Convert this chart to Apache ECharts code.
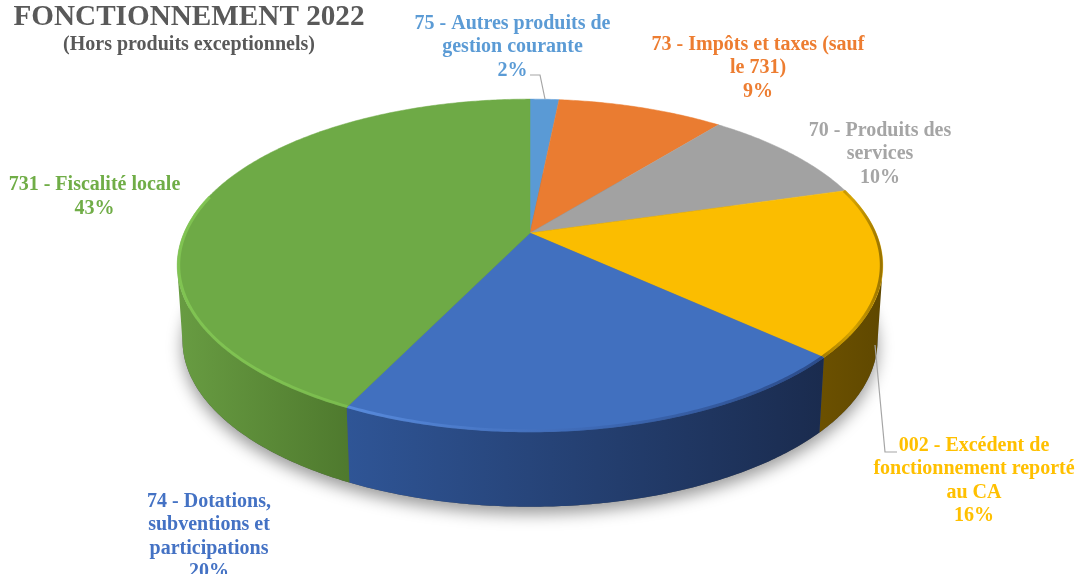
<!DOCTYPE html>
<html>
<head>
<meta charset="utf-8">
<style>
html, body {margin: 0; padding: 0; background: #fff;}
#chart {width: 1078px; height: 574px;}
</style>
<script src="https://cdn.jsdelivr.net/npm/echarts@6/dist/echarts.min.js"></script>
</head>
<body>
<div id="chart"></div>
<script>
var titleText = 'FONCTIONNEMENT 2022';
var subtitleText = '(Hors produits exceptionnels)';
var categories = [
    '75 - Autres produits de\ngestion courante',
    '73 - Impôts et taxes (sauf\nle 731)',
    '70 - Produits des\nservices',
    '002 - Excédent de\nfonctionnement reporté\nau CA',
    '74 - Dotations,\nsubventions et\nparticipations',
    '731 - Fiscalité locale'
];
var values = [1.6, 9.2, 9.7, 16.3, 20.4, 42.8];
var colors = ['#5a9ad5', '#ea7c31', '#a2a2a2', '#fbbd00', '#4170bf', '#6eaa46'];
var labelColors = ['#5b9bd5', '#ed7d31', '#a5a5a5', '#ffc000', '#4472c4', '#70ad47'];
// wall gradient, left to right
var wallColors = [
    ['#2f5a85', '#2f5a85'], ['#8a4a1c', '#8a4a1c'], ['#666666', '#666666'],
    ['#6b5000', '#5f4800'], ['#2f5596', '#1a2b4e'], ['#689c42', '#4f7a2e']
];
// bevel of the front edge, left to right
var rimColors = [
    null, null, null,
    ['#8a6800', '#c89a00', '#7a5c00'],
    ['#5f93e6', '#3d68b4', '#24407a'],
    ['#86cc56', '#84c954', '#7ec250']
];
var labelPos = [[512.5, 47], [758, 68], [880, 154], [974, 481], [209, 537], [94.5, 197]];
var leaderLines = [
    [[530, 75], [540, 75], [545, 99]],
    [[875, 345], [885, 452], [897, 452]]
];

// projection of the pie, a circle seen in perspective
var cx = 530, cy = 233, radius = 346, tiltA = 160, tiltK = 0.195;
var depth = 75, bottomScale = 0.985;
var wallFrom = 1.78, wallTo = 4.5;
var total = values.reduce(function(a, b){ return a + b; }, 0);
var font = 'bold 20px "Liberation Serif", "Times New Roman", serif';

function project(angle, r){
    var X = Math.sin(angle) * r, Y = -Math.cos(angle) * r;
    var w = 1 - tiltK * Y;
    return [cx + radius * X / w, cy + tiltA * Y / w];
}
function projectBottom(angle){
    var p = project(angle, 1);
    return [cx + (p[0] - cx) * bottomScale, p[1] + depth];
}
function arc(fn, a0, a1, r){
    var pts = [], n = Math.max(2, Math.ceil((a1 - a0) / 0.01));
    for (var i = 0; i <= n; i++){
        pts.push(fn(a0 + (a1 - a0) * i / n, r));
    }
    return pts;
}
function sliceAngles(idx){
    var before = 0;
    for (var i = 0; i < idx; i++) before += values[i];
    return [before / total * Math.PI * 2, (before + values[idx]) / total * Math.PI * 2];
}
function hGradient(x0, x1, c){
    return {type: 'linear', x: x0, y: 0, x2: x1, y2: 0, global: true,
        colorStops: c.map(function(col, i){ return {offset: i / (c.length - 1), color: col}; })};
}
function extentX(pts){
    var xs = pts.map(function(p){ return p[0]; });
    return [Math.min.apply(null, xs), Math.max.apply(null, xs)];
}

function renderShadow(){
    return {
        type: 'polygon',
        shape: {points: arc(projectBottom, 0, Math.PI * 2)},
        style: {fill: '#555', shadowColor: 'rgba(0,0,0,0.4)', shadowBlur: 16, shadowOffsetY: 7}
    };
}
function renderWall(params){
    var a = sliceAngles(params.dataIndex);
    var from = Math.max(a[0], wallFrom), to = Math.min(a[1], wallTo);
    if (to <= from) return null;
    var top = arc(project, from, to, 1);
    var bottom = arc(projectBottom, from, to).reverse();
    var ex = extentX(top);
    return {
        type: 'polygon',
        shape: {points: top.concat(bottom)},
        style: {fill: hGradient(ex[0], ex[1], wallColors[params.dataIndex])}
    };
}
function renderTop(params){
    var idx = params.dataIndex;
    var a = sliceAngles(idx);
    var children = [{
        type: 'polygon',
        shape: {points: [[cx, cy]].concat(arc(project, a[0], a[1], 1))},
        style: {fill: colors[idx], stroke: colors[idx], lineWidth: 0.5}
    }];
    if (rimColors[idx]){
        var rim = arc(project, Math.max(a[0], 1.25), Math.min(a[1], 4.95), 0.996);
        var ex = extentX(rim);
        children.push({
            type: 'polyline',
            shape: {points: rim},
            style: {fill: null, stroke: hGradient(ex[0], ex[1], rimColors[idx]), lineWidth: 3, opacity: 0.75}
        });
    }
    return {type: 'group', children: children};
}
function renderLabel(params, api){
    var idx = params.dataIndex;
    return {
        type: 'text',
        style: {
            text: categories[idx] + '\n' + Math.round(api.value(0)) + '%',
            x: labelPos[idx][0], y: labelPos[idx][1],
            fill: labelColors[idx], font: font,
            align: 'center', verticalAlign: 'middle', lineHeight: 23.5
        }
    };
}
function renderLeader(params){
    return {
        type: 'polyline',
        shape: {points: leaderLines[params.dataIndex]},
        style: {fill: null, stroke: '#a6a6a6', lineWidth: 1.2}
    };
}

var chart = echarts.init(document.getElementById('chart'));
chart.setOption({
    animation: false,
    backgroundColor: '#fff',
    title: {
        text: titleText,
        subtext: subtitleText,
        left: 184,
        top: -2,
        textAlign: 'center',
        itemGap: 3,
        textStyle: {fontFamily: 'Liberation Serif', fontWeight: 'bold', fontSize: 29.2, color: '#595959'},
        subtextStyle: {fontFamily: 'Liberation Serif', fontWeight: 'bold', fontSize: 20, color: '#595959'}
    },
    series: [
        {type: 'custom', coordinateSystem: 'none', z: 1, silent: true, data: [total], renderItem: renderShadow},
        {type: 'custom', coordinateSystem: 'none', z: 2, silent: true, data: values, renderItem: renderWall},
        {type: 'custom', coordinateSystem: 'none', z: 3, silent: true, data: values, renderItem: renderTop},
        {type: 'custom', coordinateSystem: 'none', z: 4, silent: true, data: leaderLines.map(function(l, i){ return i; }), renderItem: renderLeader},
        {type: 'custom', coordinateSystem: 'none', z: 5, silent: true, data: values, renderItem: renderLabel}
    ]
});
</script>
</body>
</html>
